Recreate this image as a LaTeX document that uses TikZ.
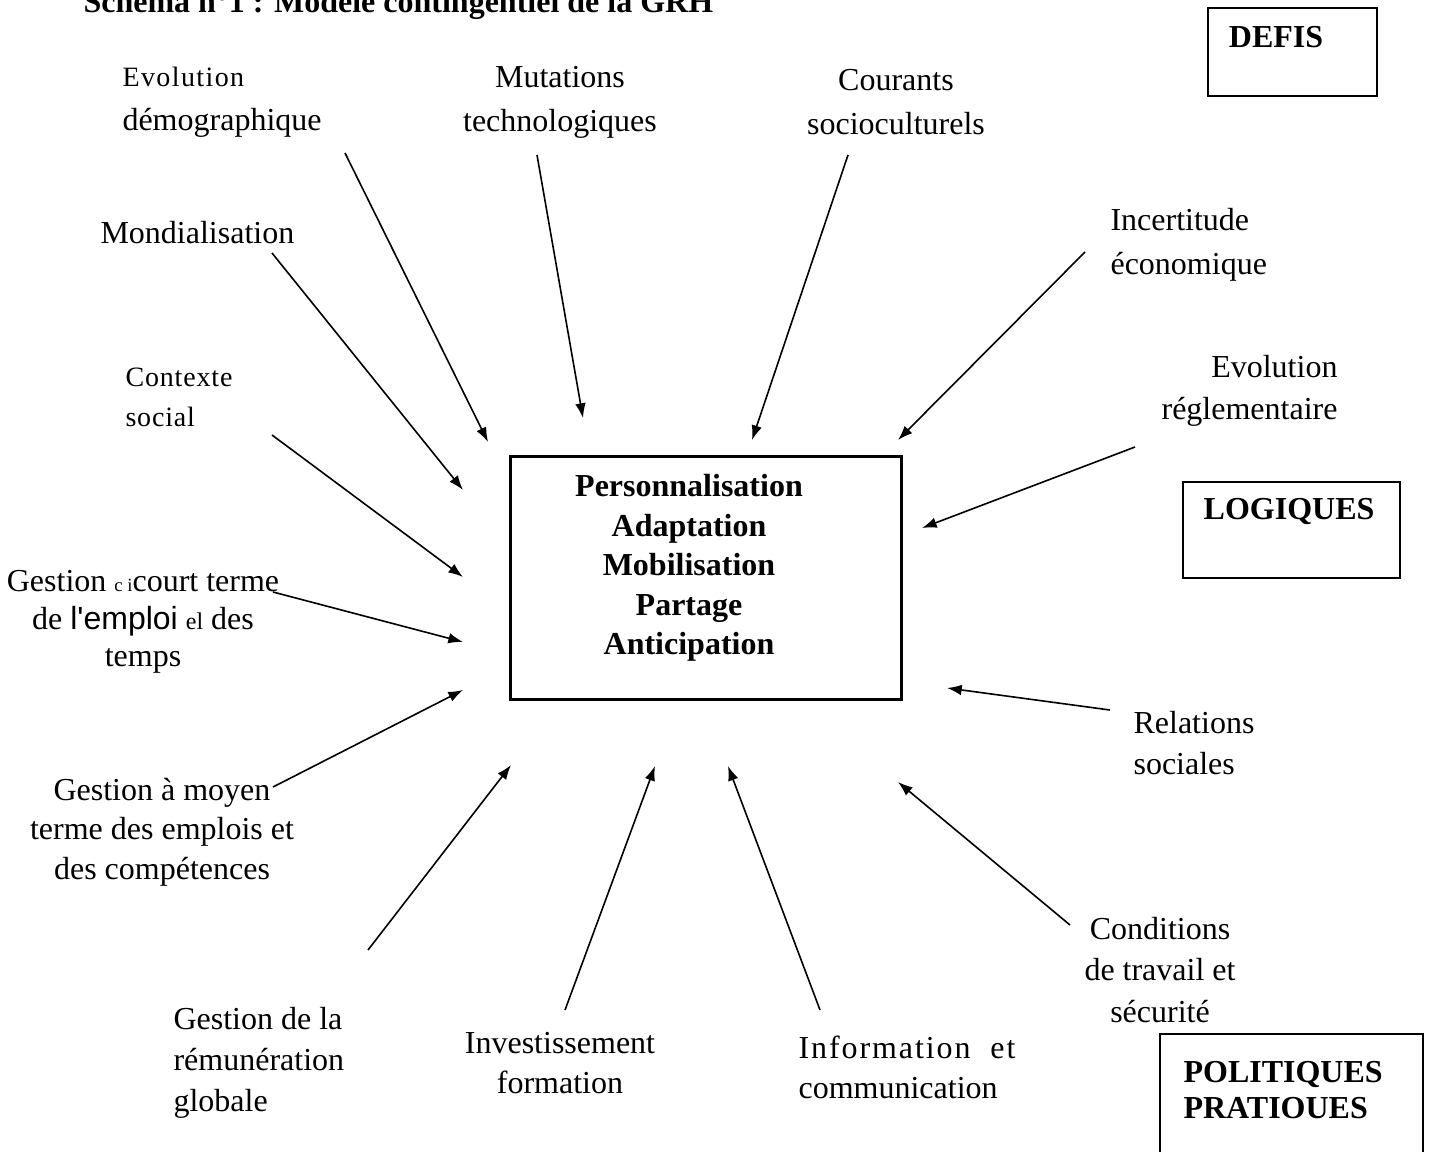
\documentclass[tikz,border=0pt]{standalone}
\usepackage{fontspec}
\setmainfont{Liberation Serif}
\newfontfamily\arialfont{Liberation Sans}
\usetikzlibrary{arrows.meta}

\begin{document}
\begin{tikzpicture}[x=0.375pt,y=-0.375pt,
  lbl/.style={font=\fontsize{12}{15.5}\selectfont,align=center,inner sep=0pt},
  lbltop/.style={lbl,font=\fontsize{12}{16.6}\selectfont},
  lblleft/.style={lbl,align=left,anchor=west},
  boxed/.style={draw,line width=0.8pt,inner sep=0pt},
  tag/.style={font=\fontsize{12}{13.5}\selectfont\bfseries,align=left,inner sep=0pt},
  push/.style={-{Latex[length=5.5pt,width=4pt]},line width=0.6pt}]
  \useasboundingbox (0,0) rectangle (1432,1151);

  \node[tag,anchor=base west] (title) at (83,13) {Schéma n°1 : Modèle contingentiel de la GRH};

  \node[boxed,minimum width=146.6pt,minimum height=91.1pt] (core) at (706,578) {};
  \node[tag,align=center,font=\fontsize{12}{14.8}\selectfont\bfseries] (coretxt) at (689,568)
    {Personnalisation\\Adaptation\\Mobilisation\\Partage\\Anticipation};

  \node[boxed,minimum width=63.4pt,minimum height=33pt] (defis) at (1292.5,52) {};
  \node[tag] (defistxt) at (1276,37) {DEFIS};
  \node[boxed,minimum width=81.4pt,minimum height=36pt] (logiq) at (1291.5,530) {};
  \node[tag] (logiqtxt) at (1289,511) {LOGIQUES};
  \node[boxed,minimum width=98.6pt,minimum height=50pt] (polit) at (1291.5,1101) {};
  \node[tag,anchor=west] (polittxt) at (1183,1090) {POLITIQUES\\PRATIOUES};

  \node[lbltop,align=left,anchor=west] (demo) at (122,102) {{\fontsize{10.5}{12}\selectfont\addfontfeature{LetterSpace=5}Evolution}\\démographique};
  \node[lbltop] (mut) at (560,102) {Mutations\\technologiques};
  \node[lbltop] (cour) at (896,102) {Courants\\socioculturels};
  \node[lblleft] (mond) at (100,233) {Mondialisation};
  \node[lblleft,font=\fontsize{12}{16.4}\selectfont] (incert) at (1110,245) {Incertitude\\économique};
  \node[lblleft,font=\fontsize{10.5}{15}\selectfont\addfontfeature{LetterSpace=3}] (ctx) at (125,397) {Contexte\\social};
  \node[lbl,align=right,anchor=east] (evreg) at (1338,391) {Evolution\\réglementaire};
  \node[lbl,font=\fontsize{12}{14}\selectfont] (court) at (143,622) {Gestion {\fontsize{7}{8}\selectfont c i}court terme\\de {\arialfont l'emploi} {\fontsize{9}{10}\selectfont el} des\\temps};
  \node[lblleft] (rel) at (1133,743) {Relations\\sociales};
  \node[lbl,font=\fontsize{12}{14.8}\selectfont] (moyen) at (162,832) {Gestion à moyen\\terme des emplois et\\des compétences};
  \node[lblleft] (remun) at (173,1063) {Gestion de la\\rémunération\\globale};
  \node[lbl,font=\fontsize{12}{15}\selectfont] (invest) at (560,1063) {Investissement\\formation};
  \node[lblleft,font=\fontsize{12}{15}\selectfont] (info) at (798,1067) {{\addfontfeature{LetterSpace=6}Information \ et}\\communication};
  \node[lbl] (cond) at (1160,970) {Conditions\\de travail et\\sécurité};

  \coordinate (demo-t) at (345,153);   \coordinate (demo-h) at (488,442);
  \coordinate (mut-t) at (537,155);    \coordinate (mut-h) at (583,418);
  \coordinate (cour-t) at (848,155);   \coordinate (cour-h) at (752,440);
  \coordinate (incert-t) at (1085,252);\coordinate (incert-h) at (898,440);
  \coordinate (evreg-t) at (1135,447); \coordinate (evreg-h) at (922,528);
  \coordinate (rel-t) at (1110,710);   \coordinate (rel-h) at (947,688);
  \coordinate (cond-t) at (1070,925);  \coordinate (cond-h) at (898,782);
  \coordinate (info-t) at (820,1010);  \coordinate (info-h) at (728,766);
  \coordinate (invest-t) at (565,1010);\coordinate (invest-h) at (655,766);
  \coordinate (remun-t) at (368,950);  \coordinate (remun-h) at (511,765);
  \coordinate (moyen-t) at (273,787);  \coordinate (moyen-h) at (463,690);
  \coordinate (court-t) at (273,592);  \coordinate (court-h) at (463,642);
  \coordinate (ctx-t) at (272,435);    \coordinate (ctx-h) at (463,577);
  \coordinate (mond-t) at (272,253);   \coordinate (mond-h) at (463,490);

  \draw[push] (demo-t) -- (demo-h);
  \draw[push] (mut-t) -- (mut-h);
  \draw[push] (cour-t) -- (cour-h);
  \draw[push] (incert-t) -- (incert-h);
  \draw[push] (evreg-t) -- (evreg-h);
  \draw[push] (rel-t) -- (rel-h);
  \draw[push] (cond-t) -- (cond-h);
  \draw[push] (info-t) -- (info-h);
  \draw[push] (invest-t) -- (invest-h);
  \draw[push] (remun-t) -- (remun-h);
  \draw[push] (moyen-t) -- (moyen-h);
  \draw[push] (court-t) -- (court-h);
  \draw[push] (ctx-t) -- (ctx-h);
  \draw[push] (mond-t) -- (mond-h);
\end{tikzpicture}
\end{document}
